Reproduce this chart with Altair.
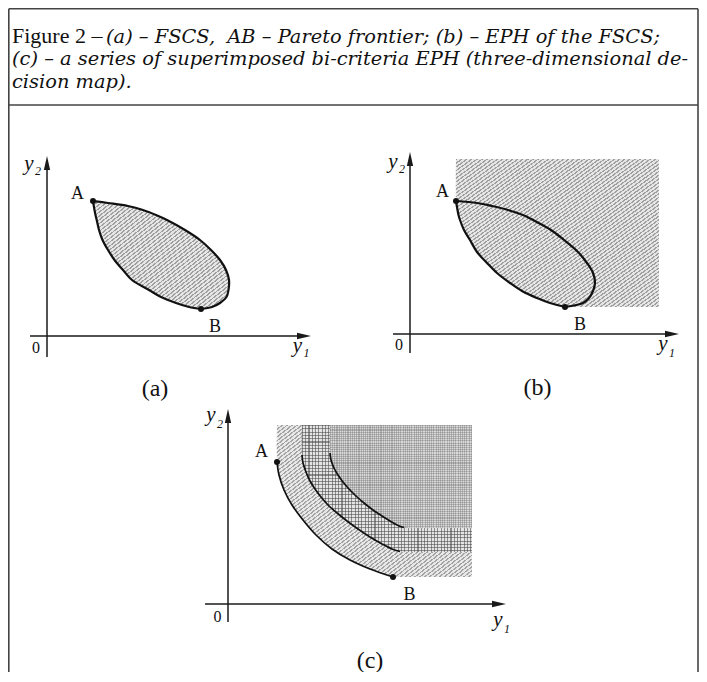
import altair as alt
import numpy as np
import pandas as pd

# ---------------- data: diagram coordinates (page pixel units) ----------------
caption_text = ["Figure 2 –",
                "(a) – FSCS,\u00a0 AB – Pareto frontier; (b) – EPH of the FSCS;",
                "(c) – a series of superimposed bi-criteria EPH (three-dimensional de-",
                "cision map)."]
caption_x = [12, 106, 12, 12]
caption_y = [42.5, 42.5, 65, 87.5]
caption_italic = [False, True, True, True]

frame_x = [8.8, 8.8, 698, 8.8]
frame_x2 = [698, 8.8, 698, 698]
frame_y = [8.8, 8.8, 8.8, 105]
frame_y2 = [8.8, 690, 690, 105]

axis_x = [47, 30, 410, 393, 228, 205]
axis_x2 = [47, 306, 410, 674, 228, 501]
axis_y = [357, 336, 353, 334, 622, 604]
axis_y2 = [162, 336, 158, 334, 415, 604]

arrow_up_x = [47, 410, 228]
arrow_up_y = [156, 152, 409]
arrow_right_x = [311, 679, 506]
arrow_right_y = [336, 334, 604]

point_x = [93, 201, 456, 565, 277, 393]
point_y = [201, 309, 201, 307, 462, 577]

letter_text = ["A", "B", "A", "B", "A", "B"]
letter_x = [77.5, 215, 442.5, 580, 261.5, 409.5]
letter_y = [198.5, 331.5, 197, 330, 457, 600]

zero_x = [36, 399, 217.5]
zero_y = [353, 350, 622]

panel_text = ["(a)", "(b)", "(c)"]
panel_x = [155, 537.5, 370]
panel_y = [395.5, 395, 668]

yname_x = [29, 393, 211, 297.5, 663, 498]
yname_y = [170, 168, 421, 351.5, 350, 626]
ysub_text = ["2", "2", "2", "1", "1", "1"]
ysub_x = [35, 399, 217, 303.5, 669, 504]
ysub_y = [175, 173, 428, 357, 357, 633]

# panel (a): feasible set (left = lower frontier, right = upper boundary)
blob_a_y = [201, 203, 206, 210, 215, 220, 230, 240, 250, 260, 270, 280, 290, 297, 303, 307, 309]
blob_a_left = [93, 93.3, 93.8, 94.5, 95.5, 96.7, 99, 102.5, 108, 114.5, 123, 132, 149, 161, 176, 189, 201]
blob_a_right = [93, 108, 128, 143, 156, 167, 185, 200, 211, 220, 226, 229, 228.5, 226.5, 220, 212, 201]

# panel (b): same set plus its EPH
blob_b_y = [201, 203, 206, 210, 215, 220, 230, 240, 252, 263, 273, 283, 291, 298, 303, 307]
blob_b_left = [456, 456.3, 456.8, 457.5, 458.5, 460, 464, 470, 477, 487, 497, 510, 522, 537, 550, 565]
blob_b_right = [456, 477, 492, 508, 523, 533, 551, 564, 578, 587, 593, 595, 593, 589, 583, 565]
eph_b_top = 159
eph_b_right = 659

# panel (c): three superimposed EPH
eph_c_top = 425
eph_c_right = 472
outer_y = [425, 462, 475, 490, 505, 520, 535, 549, 560, 569, 577]
outer_x = [277, 277, 279, 284, 292, 303, 316, 332, 350, 370, 393]
middle_y = [425, 455, 463, 472, 481, 489, 497, 505, 513, 521, 529, 537, 544, 549, 551.5, 552]
middle_x = [302, 302, 303, 306, 310, 315, 321, 328, 337, 347, 358, 370, 382, 392, 400, 406]
inner_y = [425, 453, 460, 468, 475, 482, 489, 496, 503, 510, 516, 521, 525, 527.5, 528]
inner_x = [330, 330, 331, 334, 338, 343, 349, 356, 364, 373, 382, 390, 397, 404, 410]

# ---------------- helpers ----------------
XS = alt.Scale(domain=[8, 699], nice=False, zero=False)
YS = alt.Scale(domain=[8, 672], nice=False, zero=False, reverse=True)
SERIF = "Liberation Serif"


def X(f):
    return alt.X(f, type="quantitative", scale=XS, axis=None)


def Y(f):
    return alt.Y(f, type="quantitative", scale=YS, axis=None)


def hatch(w, h, period, dark, light, frac=0.4, kind="diag"):
    if kind == "diag":
        x2, y2, g = 1, 1, 0.5 * np.sqrt(1 / w ** 2 + 1 / h ** 2)
    elif kind == "x":
        x2, y2, g = 1, 0, 1 / w
    else:
        x2, y2, g = 0, 1, 1 / h
    dt = period * g
    stops = []
    t = 0.0
    while t < 1 - 1e-9:
        a = round(min(t + dt * frac, 1), 5)
        b = round(min(t + dt, 1), 5)
        stops += [{"offset": round(t, 5), "color": dark}, {"offset": a, "color": dark},
                  {"offset": a, "color": light}, {"offset": b, "color": light}]
        t += dt
    return {"gradient": "linear", "x1": 0, "y1": 0, "x2": x2, "y2": y2, "stops": stops}


def harea(df, fill, **kw):
    return alt.Chart(df).mark_area(orient="horizontal", interpolate="catmull-rom",
                                   fill=fill, **kw).encode(
        y=Y("y"), x=X("x"), x2="x2")


layers = []

# frame
frame_df = pd.DataFrame({"x": frame_x, "x2": frame_x2, "y": frame_y, "y2": frame_y2})
layers.append(alt.Chart(frame_df).mark_rule(color="#444", strokeWidth=1.6).encode(
    x=X("x"), x2="x2", y=Y("y"), y2="y2"))

# caption
cap_df = pd.DataFrame({"t": caption_text, "x": caption_x, "y": caption_y, "it": caption_italic})
layers.append(alt.Chart(cap_df[~cap_df.it]).mark_text(
    font=SERIF, fontSize=22, align="left", baseline="alphabetic", color="#111").encode(
    x=X("x"), y=Y("y"), text="t"))
layers.append(alt.Chart(cap_df[cap_df.it]).mark_text(
    font="DejaVu Serif", fontSize=19.4, fontStyle="italic", align="left", baseline="alphabetic",
    color="#111").encode(x=X("x"), y=Y("y"), text="t"))

HATCH_DARK, HATCH_LIGHT = "#a0a0a0", "#e6e6e6"

# panel (a)
blob_a = pd.DataFrame({"y": blob_a_y, "x": blob_a_left, "x2": blob_a_right})
wa = max(blob_a_right) - min(blob_a_left)
ha = max(blob_a_y) - min(blob_a_y)
layers.append(harea(blob_a, hatch(wa, ha, 3, HATCH_DARK, HATCH_LIGHT, 0.4),
                    stroke="#111", strokeWidth=2.2))

# panel (b)
eph_b = pd.DataFrame({"y": [eph_b_top] + blob_b_y, "x": [blob_b_left[0]] + blob_b_left,
                      "x2": eph_b_right})
wb = eph_b_right - blob_b_left[0]
hb = max(blob_b_y) - eph_b_top
layers.append(harea(eph_b, hatch(wb, hb, 3, HATCH_DARK, HATCH_LIGHT, 0.4)))
blob_b = pd.DataFrame({"y": blob_b_y, "x": blob_b_left, "x2": blob_b_right})
layers.append(harea(blob_b, "#ffffff", fillOpacity=0, stroke="#111", strokeWidth=2.2))

# panel (c)
outer = pd.DataFrame({"y": outer_y, "x": outer_x, "x2": eph_c_right})
middle = pd.DataFrame({"y": middle_y, "x": middle_x, "x2": eph_c_right})
inner = pd.DataFrame({"y": inner_y, "x": inner_x, "x2": eph_c_right})
wo, ho = eph_c_right - min(outer_x), max(outer_y) - eph_c_top
wm, hm = eph_c_right - min(middle_x), max(middle_y) - eph_c_top
wi, hi = eph_c_right - min(inner_x), max(inner_y) - eph_c_top
layers.append(harea(outer, hatch(wo, ho, 3, "#a4a4a4", "#e8e8e8", 0.4)))
layers.append(harea(middle, "#e4e4e4"))
layers.append(harea(middle, hatch(wm, hm, 3.3, "rgba(70,70,70,0.55)", "rgba(0,0,0,0)", 0.33, "x")))
layers.append(harea(middle, hatch(wm, hm, 3.3, "rgba(70,70,70,0.55)", "rgba(0,0,0,0)", 0.33, "y")))
layers.append(harea(inner, "#dadada"))
layers.append(harea(inner, hatch(wi, hi, 2.2, "rgba(90,90,90,0.3)", "rgba(0,0,0,0)", 0.5, "x")))
layers.append(harea(inner, hatch(wi, hi, 2.2, "rgba(90,90,90,0.3)", "rgba(0,0,0,0)", 0.5, "y")))
for ys_, xs_, cut in [(outer_y, outer_x, 0), (middle_y, middle_x, 1), (inner_y, inner_x, 1)]:
    n = len(ys_) - cut
    cdf = pd.DataFrame({"y": ys_[1:n], "x": xs_[1:n], "o": list(range(n - 1))})
    layers.append(alt.Chart(cdf).mark_line(interpolate="catmull-rom", color="#111",
                                           strokeWidth=1.7).encode(
        x=X("x"), y=Y("y"), order="o"))

# axes
ax_df = pd.DataFrame({"x": axis_x, "x2": axis_x2, "y": axis_y, "y2": axis_y2})
layers.append(alt.Chart(ax_df).mark_rule(color="#1a1a1a", strokeWidth=1.5).encode(
    x=X("x"), x2="x2", y=Y("y"), y2="y2"))
up_df = pd.DataFrame({"x": arrow_up_x, "y": arrow_up_y})
layers.append(alt.Chart(up_df).mark_point(shape="M0,0L0.45,2L-0.45,2Z", size=196, filled=True,
                                          color="#1a1a1a", opacity=1).encode(x=X("x"), y=Y("y")))
rt_df = pd.DataFrame({"x": arrow_right_x, "y": arrow_right_y})
layers.append(alt.Chart(rt_df).mark_point(shape="M0,0L-2,-0.45L-2,0.45Z", size=196, filled=True,
                                          color="#1a1a1a", opacity=1).encode(x=X("x"), y=Y("y")))

# A / B points
pt_df = pd.DataFrame({"x": point_x, "y": point_y})
layers.append(alt.Chart(pt_df).mark_point(shape="circle", size=36, filled=True, color="#111",
                                          opacity=1).encode(x=X("x"), y=Y("y")))

# labels
lt_df = pd.DataFrame({"t": letter_text, "x": letter_x, "y": letter_y})
layers.append(alt.Chart(lt_df).mark_text(font=SERIF, fontSize=18, align="center",
                                         baseline="alphabetic", color="#111").encode(
    x=X("x"), y=Y("y"), text="t"))
z_df = pd.DataFrame({"t": ["0"] * 3, "x": zero_x, "y": zero_y})
layers.append(alt.Chart(z_df).mark_text(font=SERIF, fontSize=16, align="center",
                                        baseline="alphabetic", color="#111").encode(
    x=X("x"), y=Y("y"), text="t"))
p_df = pd.DataFrame({"t": panel_text, "x": panel_x, "y": panel_y})
layers.append(alt.Chart(p_df).mark_text(font=SERIF, fontSize=24, align="center",
                                        baseline="alphabetic", color="#111").encode(
    x=X("x"), y=Y("y"), text="t"))
yn_df = pd.DataFrame({"t": ["y"] * 6, "x": yname_x, "y": yname_y})
layers.append(alt.Chart(yn_df).mark_text(font=SERIF, fontSize=21, fontStyle="italic",
                                         align="center", baseline="alphabetic",
                                         color="#111").encode(x=X("x"), y=Y("y"), text="t"))
ys_df = pd.DataFrame({"t": ysub_text, "x": ysub_x, "y": ysub_y})
layers.append(alt.Chart(ys_df).mark_text(font=SERIF, fontSize=12, fontStyle="italic",
                                         align="left", baseline="alphabetic",
                                         color="#111").encode(x=X("x"), y=Y("y"), text="t"))

chart = alt.layer(*layers).properties(
    width=691, height=664, padding=0, autosize="none", background="white"
).configure_view(stroke=None)

chart.save("out.html", embed_options={"renderer": "svg", "actions": False})
